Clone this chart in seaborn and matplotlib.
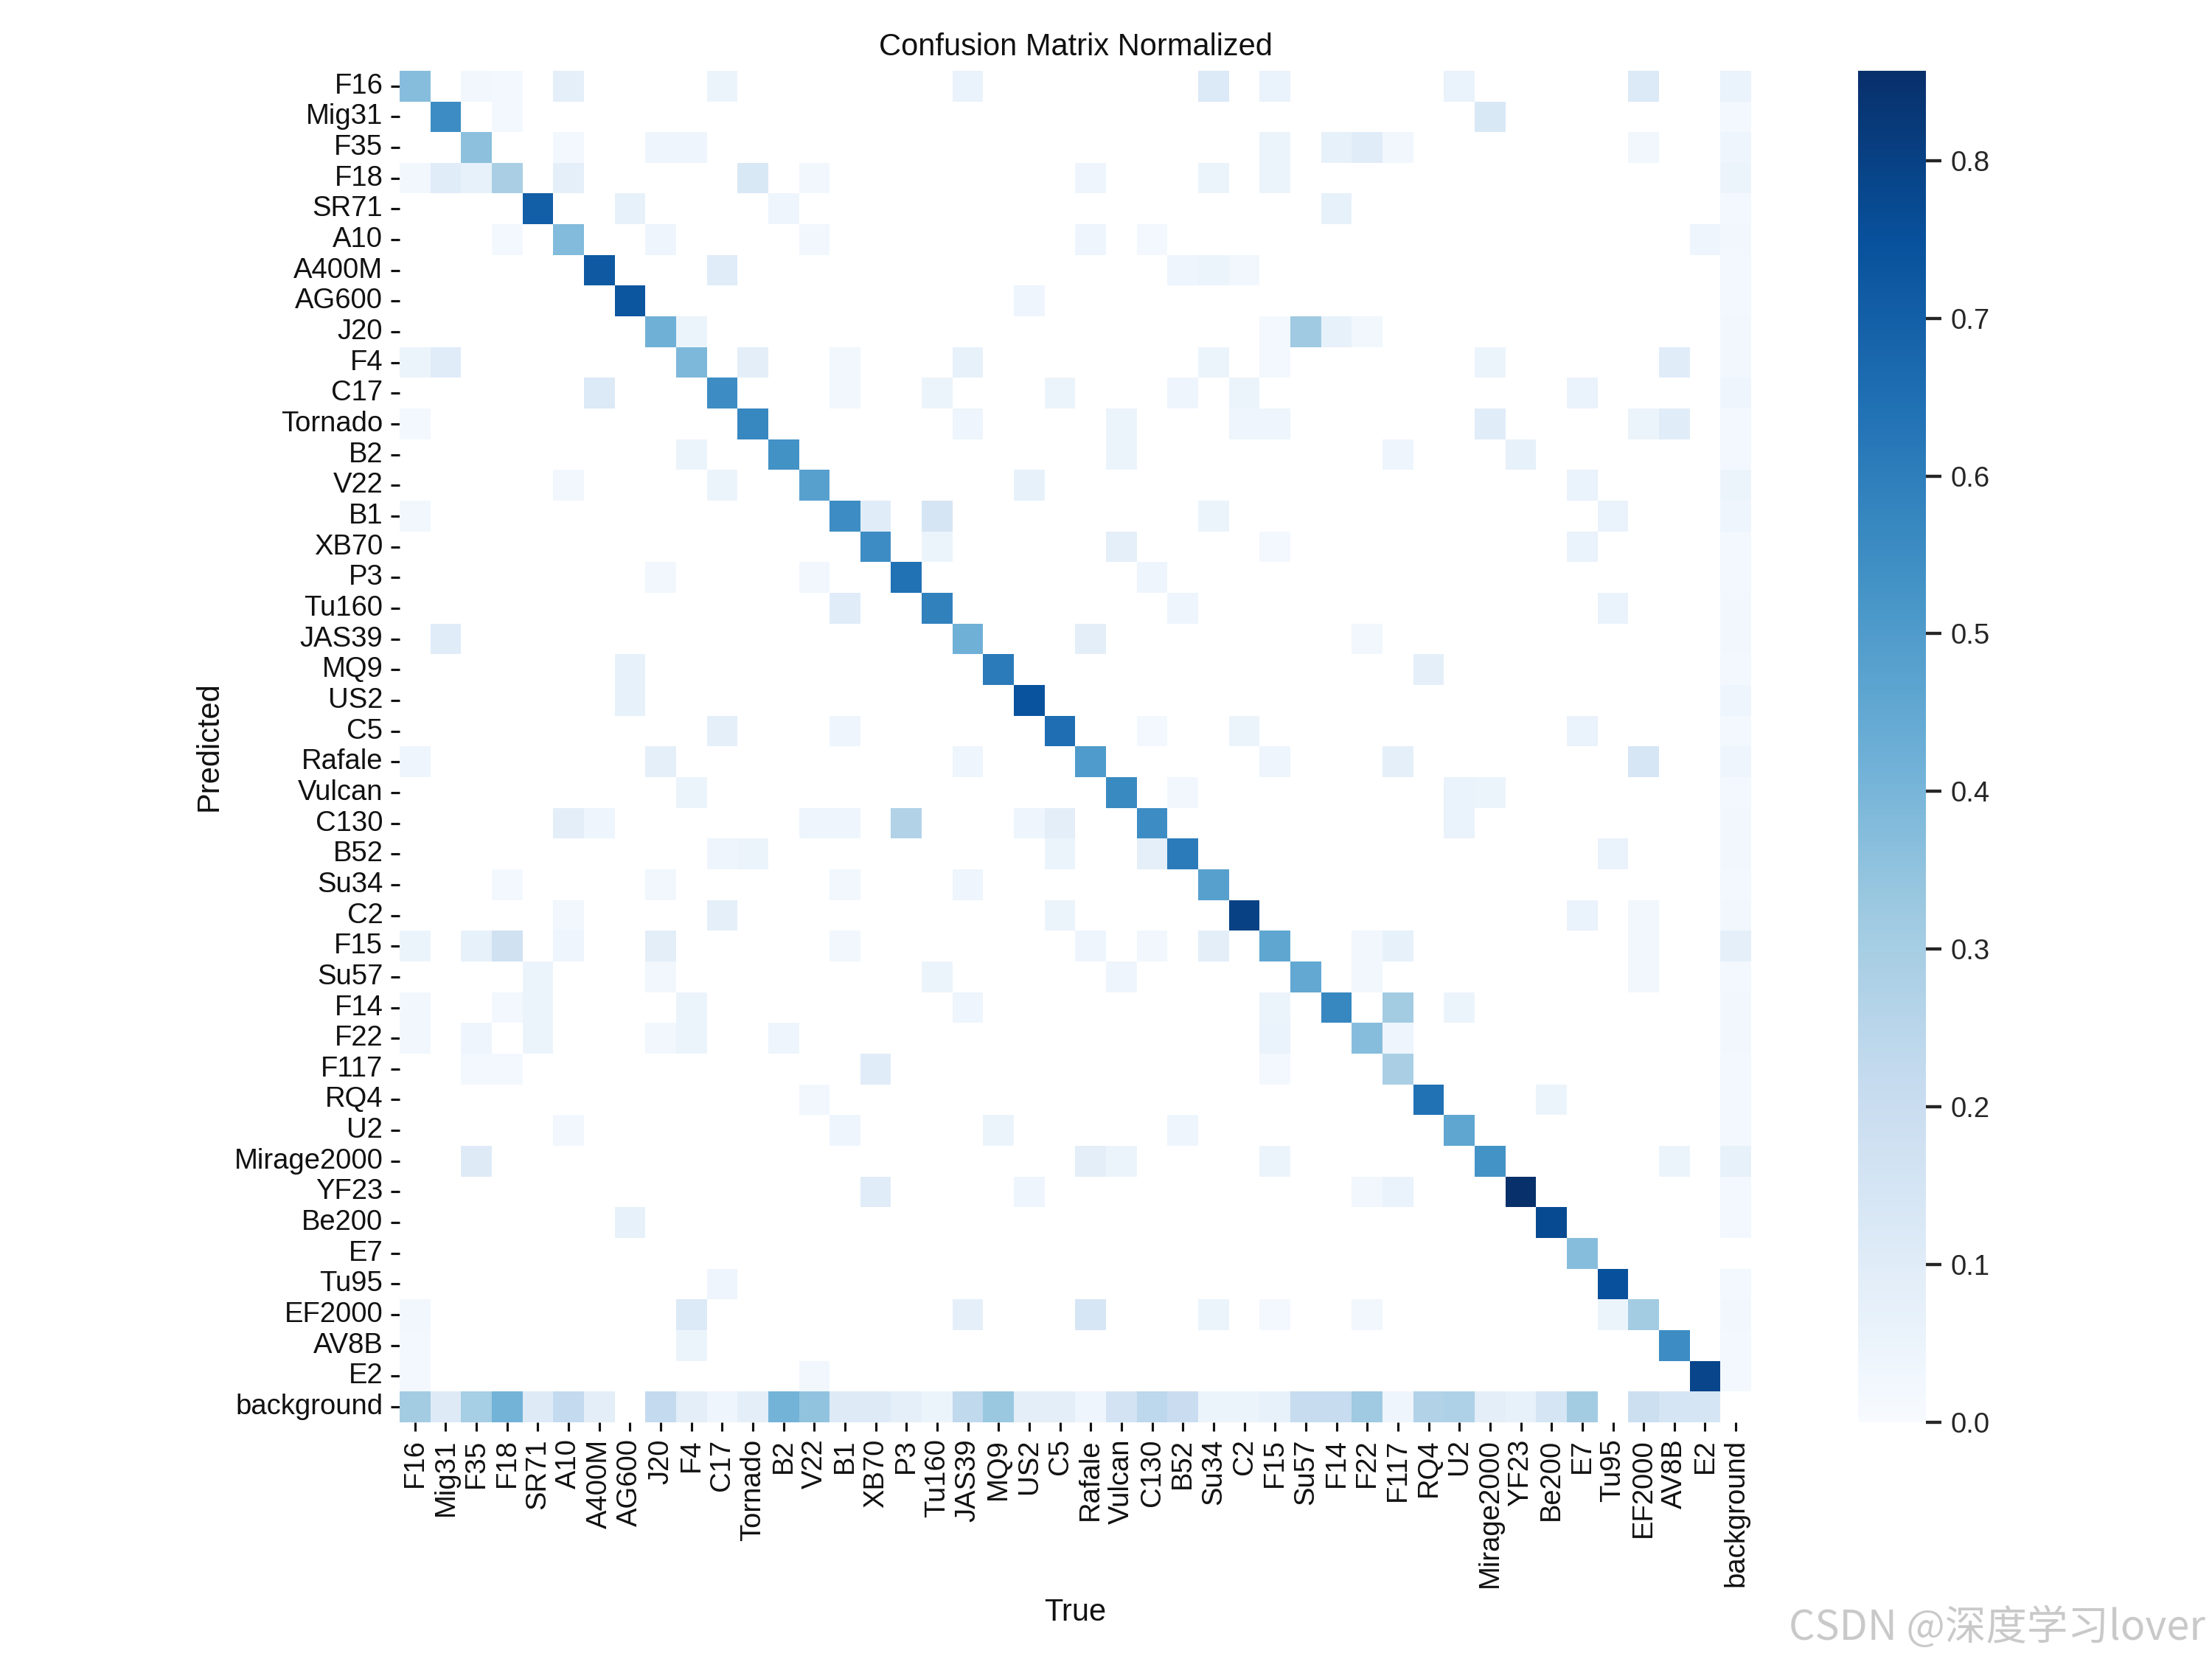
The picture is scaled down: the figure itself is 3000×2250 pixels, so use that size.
import numpy as np
import pandas as pd
import matplotlib
matplotlib.use('Agg')
import matplotlib.pyplot as plt
import seaborn as sns

# class names, same order on both axes
names = ['F16', 'Mig31', 'F35', 'F18', 'SR71', 'A10', 'A400M', 'AG600', 'J20', 'F4',
         'C17', 'Tornado', 'B2', 'V22', 'B1', 'XB70', 'P3', 'Tu160', 'JAS39', 'MQ9',
         'US2', 'C5', 'Rafale', 'Vulcan', 'C130', 'B52', 'Su34', 'C2', 'F15', 'Su57',
         'F14', 'F22', 'F117', 'RQ4', 'U2', 'Mirage2000', 'YF23', 'Be200', 'E7', 'Tu95',
         'EF2000', 'AV8B', 'E2', 'background']

# correct-prediction rate per class (diagonal)
diagonal = [0.37, 0.55, 0.36, 0.29, 0.70, 0.38, 0.72, 0.73, 0.42, 0.39,
            0.55, 0.57, 0.535, 0.48, 0.55, 0.55, 0.64, 0.59, 0.42, 0.61,
            0.745, 0.65, 0.50, 0.56, 0.55, 0.61, 0.48, 0.80, 0.46, 0.45,
            0.57, 0.37, 0.29, 0.64, 0.46, 0.53, 0.857, 0.77, 0.37, 0.75,
            0.31, 0.55, 0.79]

# bottom row: true class missed (predicted as background)
background_row = [0.31, 0.11, 0.30, 0.41, 0.11, 0.22, 0.09, 0.0, 0.22, 0.09,
                  0.04, 0.09, 0.41, 0.35, 0.11, 0.11, 0.08, 0.05, 0.23, 0.33,
                  0.09, 0.09, 0.04, 0.16, 0.24, 0.20, 0.05, 0.05, 0.07, 0.21,
                  0.21, 0.32, 0.04, 0.27, 0.28, 0.09, 0.07, 0.15, 0.31, 0.0,
                  0.19, 0.15, 0.15]

# right column: predicted class where the truth was background
background_col = [0.06, 0.02, 0.04, 0.05, 0.02, 0.03, 0.02, 0.02, 0.03, 0.03,
                  0.04, 0.02, 0.02, 0.05, 0.04, 0.02, 0.02, 0.03, 0.03, 0.02,
                  0.04, 0.02, 0.04, 0.02, 0.03, 0.03, 0.02, 0.03, 0.08, 0.02,
                  0.03, 0.03, 0.02, 0.02, 0.02, 0.07, 0.02, 0.02, 0.0, 0.02,
                  0.03, 0.02, 0.02]

# (predicted, true, value) for the other off-diagonal cells
confusions = [
    ('F16', 'F35', 0.03), ('F16', 'F18', 0.02), ('F16', 'A10', 0.08), ('F16', 'C17', 0.05),
    ('F16', 'JAS39', 0.06), ('F16', 'Su34', 0.12), ('F16', 'F15', 0.06), ('F16', 'U2', 0.06),
    ('F16', 'EF2000', 0.12),
    ('Mig31', 'F18', 0.02), ('Mig31', 'Mirage2000', 0.13),
    ('F35', 'A10', 0.02), ('F35', 'J20', 0.04), ('F35', 'F4', 0.04), ('F35', 'F15', 0.05),
    ('F35', 'F14', 0.07), ('F35', 'F22', 0.10), ('F35', 'F117', 0.03), ('F35', 'EF2000', 0.03),
    ('F18', 'F16', 0.03), ('F18', 'Mig31', 0.10), ('F18', 'F35', 0.07), ('F18', 'A10', 0.08),
    ('F18', 'Tornado', 0.13), ('F18', 'V22', 0.03), ('F18', 'Rafale', 0.04), ('F18', 'Su34', 0.05),
    ('F18', 'F15', 0.05),
    ('SR71', 'AG600', 0.07), ('SR71', 'B2', 0.04), ('SR71', 'F14', 0.07),
    ('A10', 'F18', 0.02), ('A10', 'J20', 0.04), ('A10', 'V22', 0.03), ('A10', 'Rafale', 0.04),
    ('A10', 'C130', 0.02), ('A10', 'E2', 0.04),
    ('A400M', 'C17', 0.10), ('A400M', 'B52', 0.04), ('A400M', 'Su34', 0.05), ('A400M', 'C2', 0.03),
    ('AG600', 'US2', 0.04),
    ('J20', 'F4', 0.05), ('J20', 'F15', 0.02), ('J20', 'Su57', 0.32), ('J20', 'F14', 0.07),
    ('J20', 'F22', 0.03),
    ('F4', 'F16', 0.05), ('F4', 'Mig31', 0.10), ('F4', 'Tornado', 0.09), ('F4', 'B1', 0.03),
    ('F4', 'JAS39', 0.07), ('F4', 'Su34', 0.05), ('F4', 'F15', 0.02), ('F4', 'Mirage2000', 0.05),
    ('F4', 'AV8B', 0.10),
    ('C17', 'A400M', 0.12), ('C17', 'B1', 0.03), ('C17', 'Tu160', 0.05), ('C17', 'C5', 0.05),
    ('C17', 'B52', 0.04), ('C17', 'C2', 0.05), ('C17', 'E7', 0.06),
    ('Tornado', 'F16', 0.02), ('Tornado', 'JAS39', 0.04), ('Tornado', 'Vulcan', 0.05),
    ('Tornado', 'C2', 0.04), ('Tornado', 'F15', 0.04), ('Tornado', 'Mirage2000', 0.10),
    ('Tornado', 'EF2000', 0.05), ('Tornado', 'AV8B', 0.10),
    ('B2', 'F4', 0.05), ('B2', 'Vulcan', 0.05), ('B2', 'F117', 0.04), ('B2', 'YF23', 0.07),
    ('V22', 'A10', 0.03), ('V22', 'C17', 0.05), ('V22', 'US2', 0.07), ('V22', 'E7', 0.06),
    ('B1', 'F16', 0.03), ('B1', 'XB70', 0.10), ('B1', 'Tu160', 0.15), ('B1', 'Su34', 0.05),
    ('B1', 'Tu95', 0.06),
    ('XB70', 'Tu160', 0.05), ('XB70', 'Vulcan', 0.08), ('XB70', 'F15', 0.02), ('XB70', 'E7', 0.06),
    ('P3', 'J20', 0.03), ('P3', 'V22', 0.03), ('P3', 'C130', 0.04),
    ('Tu160', 'B1', 0.10), ('Tu160', 'B52', 0.04), ('Tu160', 'Tu95', 0.06),
    ('JAS39', 'Mig31', 0.10), ('JAS39', 'Rafale', 0.09), ('JAS39', 'F22', 0.03),
    ('MQ9', 'AG600', 0.07), ('MQ9', 'RQ4', 0.08),
    ('US2', 'AG600', 0.07),
    ('C5', 'C17', 0.08), ('C5', 'B1', 0.04), ('C5', 'C130', 0.02), ('C5', 'C2', 0.05),
    ('C5', 'E7', 0.06),
    ('Rafale', 'F16', 0.04), ('Rafale', 'J20', 0.08), ('Rafale', 'JAS39', 0.04),
    ('Rafale', 'F15', 0.04), ('Rafale', 'F117', 0.08), ('Rafale', 'EF2000', 0.14),
    ('Vulcan', 'F4', 0.05), ('Vulcan', 'B52', 0.03), ('Vulcan', 'U2', 0.06),
    ('Vulcan', 'Mirage2000', 0.05),
    ('C130', 'A10', 0.09), ('C130', 'A400M', 0.04), ('C130', 'V22', 0.04), ('C130', 'B1', 0.04),
    ('C130', 'P3', 0.27), ('C130', 'US2', 0.04), ('C130', 'C5', 0.09), ('C130', 'U2', 0.06),
    ('B52', 'C17', 0.04), ('B52', 'Tornado', 0.05), ('B52', 'C5', 0.05), ('B52', 'C130', 0.08),
    ('B52', 'Tu95', 0.06),
    ('Su34', 'F18', 0.02), ('Su34', 'J20', 0.03), ('Su34', 'B1', 0.03), ('Su34', 'JAS39', 0.04),
    ('C2', 'A10', 0.03), ('C2', 'C17', 0.08), ('C2', 'C5', 0.05), ('C2', 'E7', 0.06),
    ('C2', 'EF2000', 0.03),
    ('F15', 'F16', 0.05), ('F15', 'F35', 0.07), ('F15', 'F18', 0.17), ('F15', 'A10', 0.04),
    ('F15', 'J20', 0.09), ('F15', 'B1', 0.03), ('F15', 'Rafale', 0.04), ('F15', 'C130', 0.03),
    ('F15', 'Su34', 0.09), ('F15', 'F22', 0.03), ('F15', 'F117', 0.07), ('F15', 'EF2000', 0.03),
    ('Su57', 'SR71', 0.05), ('Su57', 'J20', 0.03), ('Su57', 'Tu160', 0.05), ('Su57', 'Vulcan', 0.04),
    ('Su57', 'F22', 0.03), ('Su57', 'EF2000', 0.03),
    ('F14', 'F16', 0.03), ('F14', 'F18', 0.02), ('F14', 'SR71', 0.05), ('F14', 'F4', 0.05),
    ('F14', 'JAS39', 0.04), ('F14', 'F15', 0.05), ('F14', 'F117', 0.31), ('F14', 'U2', 0.05),
    ('F22', 'F16', 0.03), ('F22', 'F35', 0.04), ('F22', 'SR71', 0.05), ('F22', 'J20', 0.03),
    ('F22', 'F4', 0.05), ('F22', 'B2', 0.04), ('F22', 'F15', 0.06), ('F22', 'F117', 0.04),
    ('F117', 'F35', 0.02), ('F117', 'F18', 0.02), ('F117', 'XB70', 0.10), ('F117', 'F15', 0.02),
    ('RQ4', 'V22', 0.03), ('RQ4', 'Be200', 0.05),
    ('U2', 'A10', 0.03), ('U2', 'B1', 0.04), ('U2', 'MQ9', 0.05), ('U2', 'B52', 0.04),
    ('Mirage2000', 'F35', 0.11), ('Mirage2000', 'Rafale', 0.09), ('Mirage2000', 'Vulcan', 0.05),
    ('Mirage2000', 'F15', 0.05), ('Mirage2000', 'AV8B', 0.05),
    ('YF23', 'XB70', 0.10), ('YF23', 'US2', 0.04), ('YF23', 'F22', 0.03), ('YF23', 'F117', 0.06),
    ('Be200', 'AG600', 0.07),
    ('Tu95', 'C17', 0.04),
    ('EF2000', 'F16', 0.03), ('EF2000', 'F4', 0.12), ('EF2000', 'JAS39', 0.08),
    ('EF2000', 'Rafale', 0.14), ('EF2000', 'Su34', 0.05), ('EF2000', 'F15', 0.02),
    ('EF2000', 'F22', 0.03), ('EF2000', 'Tu95', 0.05),
    ('AV8B', 'F16', 0.02), ('AV8B', 'F4', 0.05),
    ('E2', 'F16', 0.02), ('E2', 'V22', 0.03),
]


def build_matrix():
    n = len(names)
    m = np.zeros((n, n))
    for i, v in enumerate(diagonal):
        m[i, i] = v
    m[n - 1, :n - 1] = background_row
    m[:n - 1, n - 1] = background_col
    idx = {name: i for i, name in enumerate(names)}
    for pred, true, v in confusions:
        m[idx[pred], idx[true]] = v
    m[m < 0.005] = np.nan  # blank cells like the original
    return pd.DataFrame(m, index=names, columns=names)


def main():
    df = build_matrix()

    sns.set_theme(style='ticks', context='notebook')
    plt.rcParams['font.family'] = ['Liberation Sans', 'DejaVu Sans']

    fig = plt.figure(figsize=(12, 9), dpi=250)
    ax = fig.add_axes([0.1803, 0.1427, 0.6117, 0.8147])
    cax = fig.add_axes([0.84, 0.1427, 0.0307, 0.8147])

    sns.heatmap(df, ax=ax, cbar_ax=cax, cmap='Blues', vmin=0.0, square=True,
                xticklabels=names, yticklabels=names)
    ax.set_facecolor((1, 1, 1))
    ax.set_xticklabels(names, rotation=90)
    ax.set_yticklabels(names, rotation=0)
    ax.tick_params(axis='both', labelsize=11, length=3.5, width=0.9, pad=3,
                   colors='#111111')
    ax.set_xlabel('True', fontsize=12, color='#111111')
    ax.set_ylabel('Predicted', fontsize=12, color='#111111')
    ax.set_title('Confusion Matrix Normalized', fontsize=12, color='#111111')

    cax.set_yticks(np.arange(0, 0.81, 0.1))
    cax.set_yticklabels([f'{t:.1f}' for t in np.arange(0, 0.81, 0.1)])
    cax.tick_params(labelsize=11, length=6)

    fig.text(0.997, 0.006, 'CSDN @深度学习lover', ha='right', va='bottom', fontsize=16,
             color='#c9c9c9', family=['Noto Sans CJK SC', 'DejaVu Sans'])

    plt.savefig('out.png', dpi=250)
    plt.close()


if __name__ == '__main__':
    main()
